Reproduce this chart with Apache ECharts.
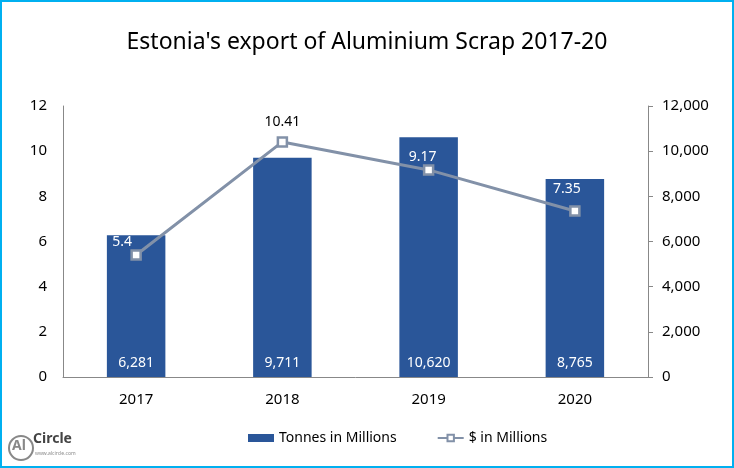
<!DOCTYPE html>
<html>
<head>
<meta charset="utf-8">
<script src="https://cdn.jsdelivr.net/npm/echarts@6/dist/echarts.min.js"></script>
<style>
  html, body { margin: 0; padding: 0; background: #fff; }
  #chart { width: 734px; height: 468px; box-sizing: border-box; border: 2px solid #00b0f0; }
</style>
</head>
<body>
<div id="chart"></div>
<script>
// data
const years = ['2017', '2018', '2019', '2020'];
const tonnes = [6281, 9711, 10620, 8765];
const dollars = [5.4, 10.41, 9.17, 7.35];
// labels that sit outside the bars are dark
const dollarLabelColors = ['#fff', '#000', '#fff', '#fff'];
// label placement nudges (Excel placed them by hand-ish)
const dollarLabelDist = [0, 7, 0, 9];
const dollarLabelShift = [-14, 0, -6, -8];

const barColor = '#2a5699';
const lineColor = '#8291a8';
const font = 'Noto Sans';

const chart = echarts.init(document.getElementById('chart'));

const fmt = v => Number(v).toLocaleString('en-US');

const option = {
  animation: false,
  textStyle: { fontFamily: font },
  title: {
    text: "Estonia's export of Aluminium Scrap 2017-20",
    left: 'center',
    top: 24,
    textStyle: { fontFamily: font, fontSize: 23, fontWeight: 'normal', color: '#000' }
  },
  grid: { left: 61, right: 84, top: 104, bottom: 89 },
  legend: {
    bottom: 16,
    left: 241,
    itemGap: 40,
    textStyle: { fontFamily: font, fontSize: 14, color: '#000' },
    data: [
      { name: 'Tonnes in Millions', icon: 'rect', itemStyle: { color: barColor } },
      { name: '$ in Millions' }
    ],
    itemWidth: 26,
    itemHeight: 8
  },
  xAxis: {
    type: 'category',
    data: years,
    axisLine: { lineStyle: { color: '#888', width: 1 } },
    axisTick: { show: false },
    axisLabel: { color: '#000', fontSize: 15, margin: 15, fontFamily: font }
  },
  yAxis: [
    {
      type: 'value',
      min: 0, max: 12, interval: 2,
      position: 'left',
      axisLine: { show: true, lineStyle: { color: '#888' } },
      axisTick: { show: false },
      splitLine: { show: false },
      axisLabel: { color: '#000', fontSize: 15, margin: 16, fontFamily: font }
    },
    {
      type: 'value',
      min: 0, max: 12000, interval: 2000,
      position: 'right',
      axisLine: { show: true, lineStyle: { color: '#888' } },
      axisTick: { show: true, length: 5, lineStyle: { color: '#888' } },
      splitLine: { show: false },
      axisLabel: { color: '#000', fontSize: 15, margin: 14, fontFamily: font, formatter: fmt }
    }
  ],
  series: [
    {
      name: 'Tonnes in Millions',
      type: 'bar',
      yAxisIndex: 1,
      data: tonnes,
      barWidth: '40%',
      itemStyle: { color: barColor },
      label: {
        show: true,
        position: 'insideBottom',
        distance: 7,
        color: '#fff',
        fontSize: 14,
        fontFamily: font,
        formatter: p => fmt(p.value)
      }
    },
    {
      name: '$ in Millions',
      type: 'line',
      yAxisIndex: 0,
      data: dollars.map((v, i) => ({
        value: v,
        label: {
          color: dollarLabelColors[i],
          distance: dollarLabelDist[i],
          offset: [dollarLabelShift[i], 0]
        }
      })),
      symbol: 'rect',
      symbolSize: 9,
      lineStyle: { color: lineColor, width: 3 },
      itemStyle: { color: '#fff', borderColor: lineColor, borderWidth: 2.5 },
      label: {
        show: true,
        position: 'top',
        fontSize: 14,
        fontFamily: font
      },
      z: 5
    }
  ],
  graphic: [
    {
      type: 'circle',
      shape: { cx: 19, cy: 446, r: 12 },
      style: { fill: 'none', stroke: '#888', lineWidth: 2 }
    },
    {
      type: 'text',
      left: 10, top: 437,
      style: { text: 'Al', fontSize: 14, fontWeight: 'bold', fill: '#888', fontFamily: font }
    },
    {
      type: 'text',
      left: 31, top: 430,
      style: { text: 'Circle', fontSize: 14, fontWeight: 'bold', fill: '#444', fontFamily: font }
    },
    {
      type: 'text',
      left: 33, top: 449,
      style: { text: 'www.alcircle.com', fontSize: 5, fill: '#888', fontFamily: font }
    }
  ]
};

chart.setOption(option);
</script>
</body>
</html>
